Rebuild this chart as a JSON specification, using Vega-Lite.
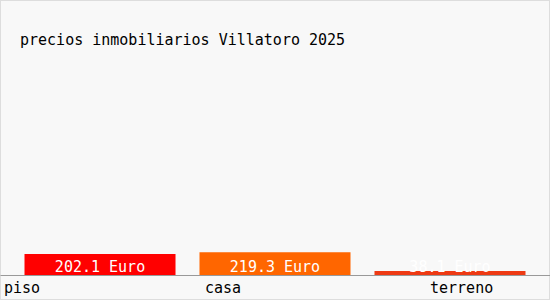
{
  "$schema": "https://vega.github.io/schema/vega-lite/v6.json",
  "width": 550,
  "height": 300,
  "padding": 0,
  "autosize": {"type": "none"},
  "background": "#f8f8f8",
  "title": {
    "text": "precios inmobiliarios Villatoro 2025",
    "anchor": "start",
    "frame": "group",
    "orient": "top",
    "offset": 0,
    "dx": 20,
    "dy": 60,
    "baseline": "alphabetic",
    "font": "DejaVu Sans Mono",
    "fontSize": 15,
    "fontWeight": "normal",
    "color": "#000000"
  },
  "config": {
    "view": {"stroke": "#dddddd", "strokeWidth": 2, "fill": "#f8f8f8"}
  },
  "data": {
    "values": [
      {"tipo": "piso", "precio": 202.1},
      {"tipo": "casa", "precio": 219.3},
      {"tipo": "terreno", "precio": 38.1}
    ]
  },
  "transform": [
    {"calculate": "format(datum.precio, '.1f') + ' Euro'", "as": "etiqueta"}
  ],
  "encoding": {
    "x": {
      "field": "tipo",
      "type": "nominal",
      "sort": null,
      "scale": {"paddingInner": 0.137, "paddingOuter": 0.14},
      "axis": {
        "title": null,
        "orient": "bottom",
        "offset": -25,
        "ticks": false,
        "domainColor": "#999999",
        "domainWidth": 1,
        "labelAngle": 0,
        "labelAlign": "left",
        "labelBaseline": "alphabetic",
        "labelPadding": 17,
        "labelFont": "DejaVu Sans Mono",
        "labelFontSize": 15,
        "labelColor": "#000000",
        "labelOffset": {"expr": "datum.value == 'piso' ? -96 : datum.value == 'casa' ? -70 : -20"}
      }
    }
  },
  "layer": [
    {
      "mark": {"type": "bar", "clip": true},
      "encoding": {
        "y": {
          "field": "precio",
          "type": "quantitative",
          "scale": {"domain": [0, 2646], "range": [275, 0], "nice": false, "zero": true},
          "axis": null
        },
        "color": {
          "field": "tipo",
          "type": "nominal",
          "scale": {"domain": ["piso", "casa", "terreno"], "range": ["#ff0000", "#ff6600", "#ee3a14"]},
          "legend": null
        }
      }
    },
    {
      "mark": {
        "type": "text",
        "color": "#ffffff",
        "font": "DejaVu Sans Mono",
        "fontSize": 15,
        "baseline": "alphabetic",
        "align": "center",
        "dy": -3
      },
      "encoding": {
        "y": {"datum": 0, "type": "quantitative"},
        "text": {"field": "etiqueta"}
      }
    }
  ]
}
